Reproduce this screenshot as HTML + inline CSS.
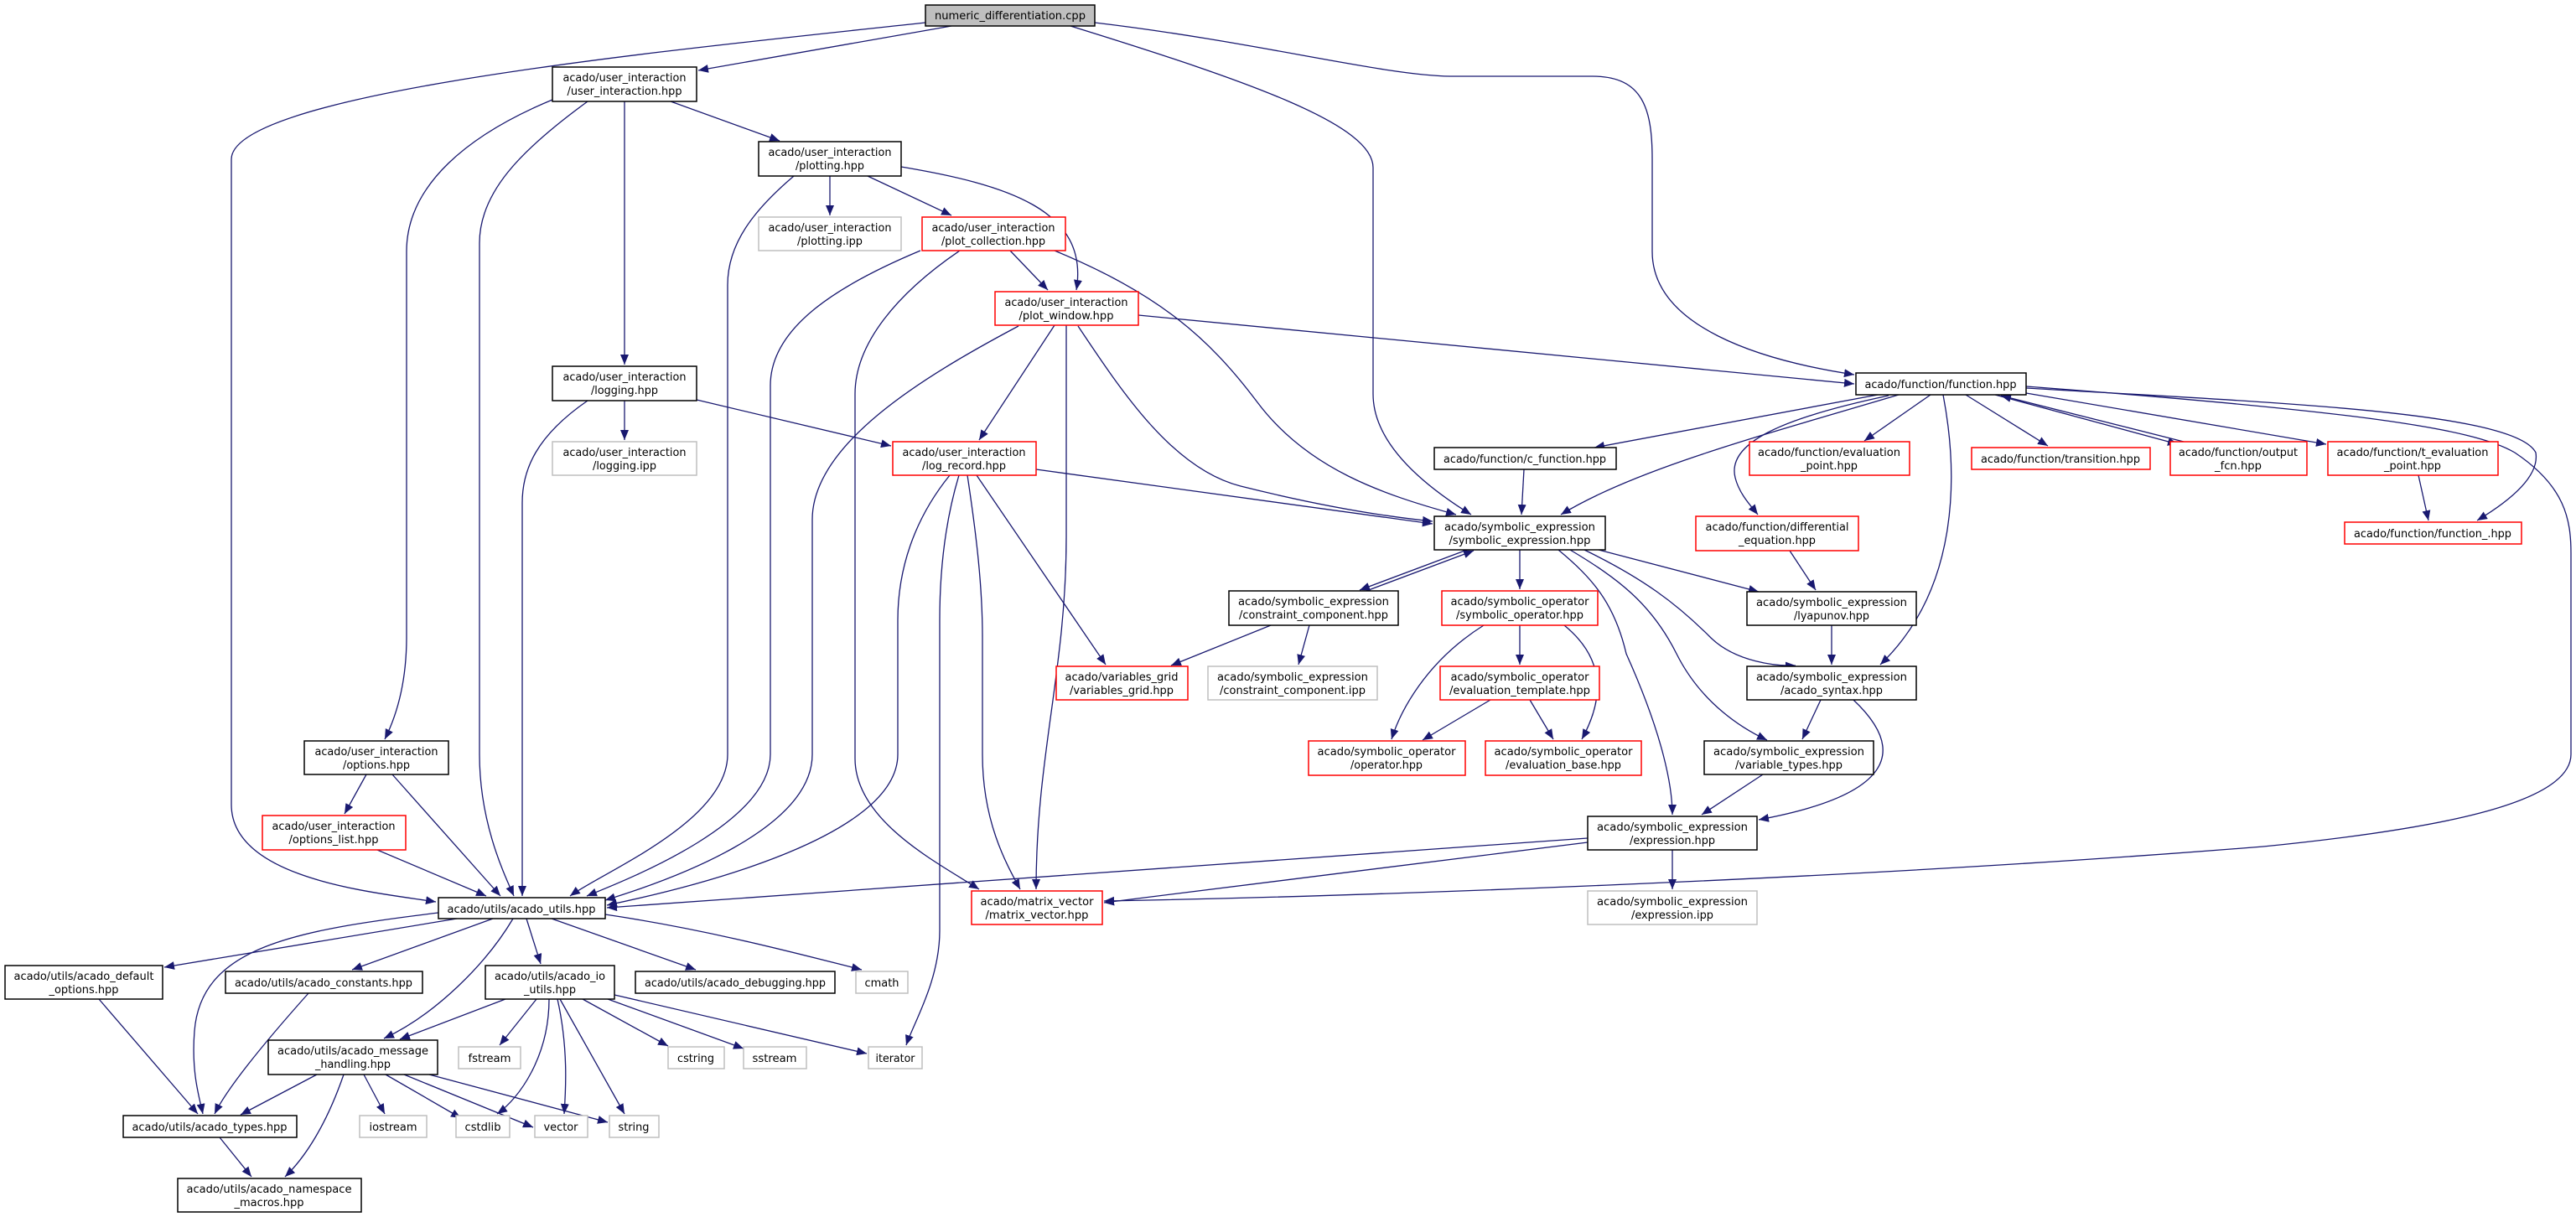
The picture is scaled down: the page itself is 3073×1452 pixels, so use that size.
<!DOCTYPE html>
<html><head><meta charset="utf-8"><style>
html,body{margin:0;padding:0;background:#fff;}
svg{display:block;}
text{font-family:"DejaVu Sans Condensed","Liberation Sans",sans-serif;font-size:13px;fill:#000;}
.e{fill:none;stroke:#191970;stroke-width:1.3;marker-end:url(#a);}
.b{fill:#fff;stroke:#000;stroke-width:1.5;}
.r{fill:#fff;stroke:#ff0000;stroke-width:1.5;}
.g{fill:#fff;stroke:#bfbfbf;stroke-width:1.5;}
.n{fill:#bfbfbf;stroke:#000;stroke-width:1.5;}
</style></head><body>
<svg width="3073" height="1452" viewBox="0 0 3073 1452" xmlns="http://www.w3.org/2000/svg">
<defs><marker id="a" markerUnits="userSpaceOnUse" markerWidth="14" markerHeight="12" refX="12" refY="5" orient="auto"><path d="M0,0 L12,5 L0,10 Z" fill="#191970"/></marker></defs>
<g>
<path class="e" d="M1104,27 C800,60 276,110 276,190 L276,960 C276,1050 450,1065 520,1076"/>
<path class="e" d="M1135,31 L833,84"/>
<path class="e" d="M1277,31 C1500,100 1638,150 1638,200 L1638,470 C1638,530 1700,580 1755,614"/>
<path class="e" d="M1306,27 C1500,50 1650,90 1730,91 L1900,91 C1960,91 1971,130 1971,190 L1971,300 C1971,390 2100,430 2212,447"/>
<path class="e" d="M701,121 C620,180 572,230 572,290 L572,900 C572,980 600,1040 613,1069"/>
<path class="e" d="M745,121 L745,435"/>
<path class="e" d="M659,119 C560,160 485,220 485,300 L485,760 C485,820 470,860 459,882"/>
<path class="e" d="M800,121 L930,168"/>
<path class="e" d="M990,210 L990,257"/>
<path class="e" d="M1035,210 L1135,257"/>
<path class="e" d="M1075,199 C1200,220 1300,250 1284,346"/>
<path class="e" d="M947,210 C900,250 868,290 868,340 L868,900 C868,980 720,1040 680,1069"/>
<path class="e" d="M745,478 L745,525"/>
<path class="e" d="M831,477 L1063,532"/>
<path class="e" d="M701,478 C640,520 623,560 623,600 L623,1069"/>
<path class="e" d="M1098,299 C1000,340 919,390 919,460 L919,900 C919,980 760,1045 700,1069"/>
<path class="e" d="M1145,299 C1070,350 1020,410 1020,470 L1020,905 C1020,980 1120,1030 1168,1061"/>
<path class="e" d="M1205,299 L1250,346"/>
<path class="e" d="M1258,299 C1380,350 1440,400 1500,480 C1560,560 1650,590 1737,614"/>
<path class="e" d="M1358,376 L2212,458"/>
<path class="e" d="M1258,388 L1168,525"/>
<path class="e" d="M1272,388 L1272,640 C1272,800 1236,900 1236,1061"/>
<path class="e" d="M1286,389 C1340,470 1400,560 1480,580 C1560,600 1640,615 1709,622"/>
<path class="e" d="M1215,389 C1100,450 969,530 969,620 L969,900 C969,990 800,1050 722,1074"/>
<path class="e" d="M1236,560 L1709,625"/>
<path class="e" d="M1133,567 C1090,620 1071,680 1071,740 L1071,900 C1071,1000 820,1060 724,1080"/>
<path class="e" d="M1144,567 C1128,620 1121,680 1121,740 L1121,1110 C1121,1170 1090,1220 1081,1247"/>
<path class="e" d="M1154,567 C1165,640 1172,700 1172,760 L1172,900 C1172,980 1200,1030 1217,1061"/>
<path class="e" d="M1165,567 L1319,793"/>
<path class="e" d="M1818,560 L1815,614"/>
<path class="e" d="M1750,656 L1622,704"/>
<path class="e" d="M1630,705 L1758,657"/>
<path class="e" d="M1813,656 L1813,703"/>
<path class="e" d="M1859,656 C1900,690 1926,720 1940,780 C1985,880 1995,940 1995,972"/>
<path class="e" d="M1873,656 C1930,690 1970,720 2000,780 C2030,840 2080,870 2108,883"/>
<path class="e" d="M1890,656 C1960,690 2000,720 2040,760 C2070,790 2120,795 2142,794"/>
<path class="e" d="M1907,656 L2098,706"/>
<path class="e" d="M1770,746 C1700,790 1670,850 1660,882"/>
<path class="e" d="M1813,746 L1813,793"/>
<path class="e" d="M1866,746 C1920,790 1910,840 1887,882"/>
<path class="e" d="M1778,835 L1697,883"/>
<path class="e" d="M1825,835 L1853,882"/>
<path class="e" d="M1516,746 L1397,794"/>
<path class="e" d="M1562,746 L1549,793"/>
<path class="e" d="M2240,471 L1902,534"/>
<path class="e" d="M2265,471 C2100,520 1950,560 1862,614"/>
<path class="e" d="M2303,471 L2224,526"/>
<path class="e" d="M2253,472 C2120,500 2060,530 2070,570 C2075,590 2090,605 2097,614"/>
<path class="e" d="M2345,471 L2443,532"/>
<path class="e" d="M2380,471 L2598,530"/>
<path class="e" d="M2605,527 L2387,472"/>
<path class="e" d="M2417,469 L2775,530"/>
<path class="e" d="M2417,463 C2700,480 3000,490 3025,540 C3030,570 2990,600 2955,621"/>
<path class="e" d="M2417,461 C2800,490 2950,510 3000,540 C3060,580 3067,620 3067,660 L3067,900 C3067,960 2900,990 2700,1010 C2200,1050 1600,1070 1317,1075"/>
<path class="e" d="M2185,746 L2185,793"/>
<path class="e" d="M2135,657 L2166,704"/>
<path class="e" d="M2318,471 C2335,560 2340,700 2243,793"/>
<path class="e" d="M2172,835 L2150,882"/>
<path class="e" d="M2211,835 C2280,900 2250,950 2098,978"/>
<path class="e" d="M2103,924 L2030,972"/>
<path class="e" d="M2885,567 L2897,621"/>
<path class="e" d="M1995,1014 L1995,1061"/>
<path class="e" d="M1894,1005 L1317,1077"/>
<path class="e" d="M1894,1000 L724,1083"/>
<path class="e" d="M437,924 L411,971"/>
<path class="e" d="M468,924 L597,1069"/>
<path class="e" d="M450,1014 L580,1069"/>
<path class="e" d="M545,1096 L196,1154"/>
<path class="e" d="M523,1089 C350,1110 240,1130 232,1230 C228,1280 238,1310 242,1329"/>
<path class="e" d="M588,1096 L420,1157"/>
<path class="e" d="M612,1096 C580,1150 520,1210 458,1239"/>
<path class="e" d="M628,1096 L645,1150"/>
<path class="e" d="M658,1096 L830,1157"/>
<path class="e" d="M722,1091 C850,1110 960,1140 1028,1157"/>
<path class="e" d="M118,1192 L236,1329"/>
<path class="e" d="M368,1185 C310,1250 270,1300 256,1329"/>
<path class="e" d="M603,1192 L477,1240"/>
<path class="e" d="M640,1192 L596,1247"/>
<path class="e" d="M655,1192 C655,1260 620,1310 593,1329"/>
<path class="e" d="M665,1192 C678,1250 675,1300 673,1329"/>
<path class="e" d="M668,1192 L745,1329"/>
<path class="e" d="M695,1192 L797,1248"/>
<path class="e" d="M725,1192 L887,1251"/>
<path class="e" d="M733,1187 L1034,1257"/>
<path class="e" d="M378,1282 L287,1330"/>
<path class="e" d="M410,1282 C390,1340 365,1380 340,1404"/>
<path class="e" d="M434,1282 L459,1329"/>
<path class="e" d="M460,1282 L550,1334"/>
<path class="e" d="M482,1282 L636,1345"/>
<path class="e" d="M512,1282 L725,1339"/>
<path class="e" d="M262,1357 L300,1404"/>
</g>
<g>
<rect class="n" x="1104" y="6" width="202" height="25"/><text x="1205" y="23" text-anchor="middle" textLength="180" lengthAdjust="spacingAndGlyphs">numeric_differentiation.cpp</text>

<rect class="b" x="659" y="80" width="172" height="41"/><text x="745" y="97" text-anchor="middle" textLength="147" lengthAdjust="spacingAndGlyphs">acado/user_interaction</text><text x="745" y="113" text-anchor="middle" textLength="137" lengthAdjust="spacingAndGlyphs">/user_interaction.hpp</text>

<rect class="b" x="905" y="169" width="170" height="41"/><text x="990" y="186" text-anchor="middle" textLength="147" lengthAdjust="spacingAndGlyphs">acado/user_interaction</text><text x="990" y="202" text-anchor="middle" textLength="82" lengthAdjust="spacingAndGlyphs">/plotting.hpp</text>

<rect class="g" x="905" y="259" width="170" height="40"/><text x="990" y="276" text-anchor="middle" textLength="147" lengthAdjust="spacingAndGlyphs">acado/user_interaction</text><text x="990" y="292" text-anchor="middle" textLength="78" lengthAdjust="spacingAndGlyphs">/plotting.ipp</text>

<rect class="b" x="659" y="437" width="172" height="41"/><text x="745" y="454" text-anchor="middle" textLength="147" lengthAdjust="spacingAndGlyphs">acado/user_interaction</text><text x="745" y="470" text-anchor="middle" textLength="80" lengthAdjust="spacingAndGlyphs">/logging.hpp</text>

<rect class="g" x="659" y="527" width="172" height="40"/><text x="745" y="544" text-anchor="middle" textLength="147" lengthAdjust="spacingAndGlyphs">acado/user_interaction</text><text x="745" y="560" text-anchor="middle" textLength="76" lengthAdjust="spacingAndGlyphs">/logging.ipp</text>

<rect class="r" x="1100" y="259" width="171" height="40"/><text x="1185" y="276" text-anchor="middle" textLength="147" lengthAdjust="spacingAndGlyphs">acado/user_interaction</text><text x="1185" y="292" text-anchor="middle" textLength="124" lengthAdjust="spacingAndGlyphs">/plot_collection.hpp</text>

<rect class="r" x="1187" y="348" width="171" height="40"/><text x="1272" y="365" text-anchor="middle" textLength="147" lengthAdjust="spacingAndGlyphs">acado/user_interaction</text><text x="1272" y="381" text-anchor="middle" textLength="113" lengthAdjust="spacingAndGlyphs">/plot_window.hpp</text>

<rect class="r" x="1065" y="527" width="171" height="40"/><text x="1150" y="544" text-anchor="middle" textLength="147" lengthAdjust="spacingAndGlyphs">acado/user_interaction</text><text x="1150" y="560" text-anchor="middle" textLength="100" lengthAdjust="spacingAndGlyphs">/log_record.hpp</text>

<rect class="b" x="1711" y="534" width="217" height="26"/><text x="1819" y="552" text-anchor="middle" textLength="194" lengthAdjust="spacingAndGlyphs">acado/function/c_function.hpp</text>

<rect class="b" x="1711" y="616" width="204" height="40"/><text x="1813" y="633" text-anchor="middle" textLength="180" lengthAdjust="spacingAndGlyphs">acado/symbolic_expression</text><text x="1813" y="649" text-anchor="middle" textLength="169" lengthAdjust="spacingAndGlyphs">/symbolic_expression.hpp</text>

<rect class="b" x="1466" y="705" width="202" height="41"/><text x="1567" y="722" text-anchor="middle" textLength="180" lengthAdjust="spacingAndGlyphs">acado/symbolic_expression</text><text x="1567" y="738" text-anchor="middle" textLength="178" lengthAdjust="spacingAndGlyphs">/constraint_component.hpp</text>

<rect class="r" x="1720" y="705" width="186" height="41"/><text x="1813" y="722" text-anchor="middle" textLength="165" lengthAdjust="spacingAndGlyphs">acado/symbolic_operator</text><text x="1813" y="738" text-anchor="middle" textLength="152" lengthAdjust="spacingAndGlyphs">/symbolic_operator.hpp</text>

<rect class="b" x="2214" y="445" width="203" height="26"/><text x="2315" y="463" text-anchor="middle" textLength="181" lengthAdjust="spacingAndGlyphs">acado/function/function.hpp</text>

<rect class="r" x="2087" y="527" width="191" height="40"/><text x="2182" y="544" text-anchor="middle" textLength="170" lengthAdjust="spacingAndGlyphs">acado/function/evaluation</text><text x="2182" y="560" text-anchor="middle" textLength="68" lengthAdjust="spacingAndGlyphs">_point.hpp</text>

<rect class="r" x="2352" y="534" width="213" height="26"/><text x="2458" y="552" text-anchor="middle" textLength="190" lengthAdjust="spacingAndGlyphs">acado/function/transition.hpp</text>

<rect class="r" x="2589" y="527" width="163" height="40"/><text x="2670" y="544" text-anchor="middle" textLength="142" lengthAdjust="spacingAndGlyphs">acado/function/output</text><text x="2670" y="560" text-anchor="middle" textLength="56" lengthAdjust="spacingAndGlyphs">_fcn.hpp</text>

<rect class="r" x="2777" y="527" width="203" height="40"/><text x="2878" y="544" text-anchor="middle" textLength="181" lengthAdjust="spacingAndGlyphs">acado/function/t_evaluation</text><text x="2878" y="560" text-anchor="middle" textLength="68" lengthAdjust="spacingAndGlyphs">_point.hpp</text>

<rect class="r" x="2797" y="623" width="211" height="26"/><text x="2902" y="641" text-anchor="middle" textLength="188" lengthAdjust="spacingAndGlyphs">acado/function/function_.hpp</text>

<rect class="r" x="2023" y="616" width="194" height="41"/><text x="2120" y="633" text-anchor="middle" textLength="171" lengthAdjust="spacingAndGlyphs">acado/function/differential</text><text x="2120" y="649" text-anchor="middle" textLength="92" lengthAdjust="spacingAndGlyphs">_equation.hpp</text>

<rect class="b" x="2084" y="706" width="202" height="40"/><text x="2185" y="723" text-anchor="middle" textLength="180" lengthAdjust="spacingAndGlyphs">acado/symbolic_expression</text><text x="2185" y="739" text-anchor="middle" textLength="90" lengthAdjust="spacingAndGlyphs">/lyapunov.hpp</text>

<rect class="b" x="2084" y="795" width="202" height="40"/><text x="2185" y="812" text-anchor="middle" textLength="180" lengthAdjust="spacingAndGlyphs">acado/symbolic_expression</text><text x="2185" y="828" text-anchor="middle" textLength="122" lengthAdjust="spacingAndGlyphs">/acado_syntax.hpp</text>

<rect class="b" x="2033" y="884" width="202" height="40"/><text x="2134" y="901" text-anchor="middle" textLength="180" lengthAdjust="spacingAndGlyphs">acado/symbolic_expression</text><text x="2134" y="917" text-anchor="middle" textLength="128" lengthAdjust="spacingAndGlyphs">/variable_types.hpp</text>

<rect class="b" x="1894" y="974" width="202" height="40"/><text x="1995" y="991" text-anchor="middle" textLength="180" lengthAdjust="spacingAndGlyphs">acado/symbolic_expression</text><text x="1995" y="1007" text-anchor="middle" textLength="102" lengthAdjust="spacingAndGlyphs">/expression.hpp</text>

<rect class="g" x="1894" y="1063" width="202" height="40"/><text x="1995" y="1080" text-anchor="middle" textLength="180" lengthAdjust="spacingAndGlyphs">acado/symbolic_expression</text><text x="1995" y="1096" text-anchor="middle" textLength="98" lengthAdjust="spacingAndGlyphs">/expression.ipp</text>

<rect class="r" x="1260" y="795" width="157" height="40"/><text x="1338" y="812" text-anchor="middle" textLength="135" lengthAdjust="spacingAndGlyphs">acado/variables_grid</text><text x="1338" y="828" text-anchor="middle" textLength="124" lengthAdjust="spacingAndGlyphs">/variables_grid.hpp</text>

<rect class="g" x="1441" y="795" width="202" height="40"/><text x="1542" y="812" text-anchor="middle" textLength="180" lengthAdjust="spacingAndGlyphs">acado/symbolic_expression</text><text x="1542" y="828" text-anchor="middle" textLength="174" lengthAdjust="spacingAndGlyphs">/constraint_component.ipp</text>

<rect class="r" x="1718" y="795" width="190" height="40"/><text x="1813" y="812" text-anchor="middle" textLength="165" lengthAdjust="spacingAndGlyphs">acado/symbolic_operator</text><text x="1813" y="828" text-anchor="middle" textLength="168" lengthAdjust="spacingAndGlyphs">/evaluation_template.hpp</text>

<rect class="r" x="1561" y="884" width="187" height="41"/><text x="1654" y="901" text-anchor="middle" textLength="165" lengthAdjust="spacingAndGlyphs">acado/symbolic_operator</text><text x="1654" y="917" text-anchor="middle" textLength="86" lengthAdjust="spacingAndGlyphs">/operator.hpp</text>

<rect class="r" x="1772" y="884" width="186" height="41"/><text x="1865" y="901" text-anchor="middle" textLength="165" lengthAdjust="spacingAndGlyphs">acado/symbolic_operator</text><text x="1865" y="917" text-anchor="middle" textLength="138" lengthAdjust="spacingAndGlyphs">/evaluation_base.hpp</text>

<rect class="r" x="1159" y="1063" width="156" height="40"/><text x="1237" y="1080" text-anchor="middle" textLength="135" lengthAdjust="spacingAndGlyphs">acado/matrix_vector</text><text x="1237" y="1096" text-anchor="middle" textLength="123" lengthAdjust="spacingAndGlyphs">/matrix_vector.hpp</text>

<rect class="g" x="1021" y="1159" width="62" height="26"/><text x="1052" y="1177" text-anchor="middle" textLength="41" lengthAdjust="spacingAndGlyphs">cmath</text>
<rect class="g" x="1036" y="1249" width="64" height="26"/><text x="1068" y="1267" text-anchor="middle" textLength="47" lengthAdjust="spacingAndGlyphs">iterator</text>

<rect class="b" x="363" y="884" width="172" height="40"/><text x="449" y="901" text-anchor="middle" textLength="147" lengthAdjust="spacingAndGlyphs">acado/user_interaction</text><text x="449" y="917" text-anchor="middle" textLength="80" lengthAdjust="spacingAndGlyphs">/options.hpp</text>

<rect class="r" x="313" y="973" width="171" height="41"/><text x="398" y="990" text-anchor="middle" textLength="147" lengthAdjust="spacingAndGlyphs">acado/user_interaction</text><text x="398" y="1006" text-anchor="middle" textLength="107" lengthAdjust="spacingAndGlyphs">/options_list.hpp</text>

<rect class="b" x="523" y="1071" width="199" height="25"/><text x="622" y="1089" text-anchor="middle" textLength="177" lengthAdjust="spacingAndGlyphs">acado/utils/acado_utils.hpp</text>

<rect class="b" x="6" y="1152" width="188" height="40"/><text x="100" y="1169" text-anchor="middle" textLength="167" lengthAdjust="spacingAndGlyphs">acado/utils/acado_default</text><text x="100" y="1185" text-anchor="middle" textLength="83" lengthAdjust="spacingAndGlyphs">_options.hpp</text>

<rect class="b" x="269" y="1159" width="235" height="26"/><text x="386" y="1177" text-anchor="middle" textLength="212" lengthAdjust="spacingAndGlyphs">acado/utils/acado_constants.hpp</text>

<rect class="b" x="579" y="1152" width="154" height="40"/><text x="656" y="1169" text-anchor="middle" textLength="132" lengthAdjust="spacingAndGlyphs">acado/utils/acado_io</text><text x="656" y="1185" text-anchor="middle" textLength="62" lengthAdjust="spacingAndGlyphs">_utils.hpp</text>

<rect class="b" x="758" y="1159" width="238" height="26"/><text x="877" y="1177" text-anchor="middle" textLength="216" lengthAdjust="spacingAndGlyphs">acado/utils/acado_debugging.hpp</text>

<rect class="b" x="320" y="1241" width="202" height="41"/><text x="421" y="1258" text-anchor="middle" textLength="180" lengthAdjust="spacingAndGlyphs">acado/utils/acado_message</text><text x="421" y="1274" text-anchor="middle" textLength="90" lengthAdjust="spacingAndGlyphs">_handling.hpp</text>

<rect class="g" x="547" y="1249" width="74" height="26"/><text x="584" y="1267" text-anchor="middle" textLength="51" lengthAdjust="spacingAndGlyphs">fstream</text>
<rect class="g" x="797" y="1249" width="67" height="26"/><text x="830" y="1267" text-anchor="middle" textLength="44" lengthAdjust="spacingAndGlyphs">cstring</text>
<rect class="g" x="887" y="1249" width="75" height="26"/><text x="924" y="1267" text-anchor="middle" textLength="53" lengthAdjust="spacingAndGlyphs">sstream</text>

<rect class="b" x="147" y="1331" width="207" height="26"/><text x="250" y="1349" text-anchor="middle" textLength="185" lengthAdjust="spacingAndGlyphs">acado/utils/acado_types.hpp</text>

<rect class="g" x="429" y="1331" width="80" height="26"/><text x="469" y="1349" text-anchor="middle" textLength="57" lengthAdjust="spacingAndGlyphs">iostream</text>
<rect class="g" x="544" y="1331" width="64" height="26"/><text x="576" y="1349" text-anchor="middle" textLength="43" lengthAdjust="spacingAndGlyphs">cstdlib</text>
<rect class="g" x="638" y="1331" width="63" height="26"/><text x="669" y="1349" text-anchor="middle" textLength="41" lengthAdjust="spacingAndGlyphs">vector</text>
<rect class="g" x="727" y="1331" width="59" height="26"/><text x="756" y="1349" text-anchor="middle" textLength="37" lengthAdjust="spacingAndGlyphs">string</text>

<rect class="b" x="212" y="1406" width="219" height="40"/><text x="321" y="1423" text-anchor="middle" textLength="197" lengthAdjust="spacingAndGlyphs">acado/utils/acado_namespace</text><text x="321" y="1439" text-anchor="middle" textLength="83" lengthAdjust="spacingAndGlyphs">_macros.hpp</text>
</g>
</svg>
</body></html>
